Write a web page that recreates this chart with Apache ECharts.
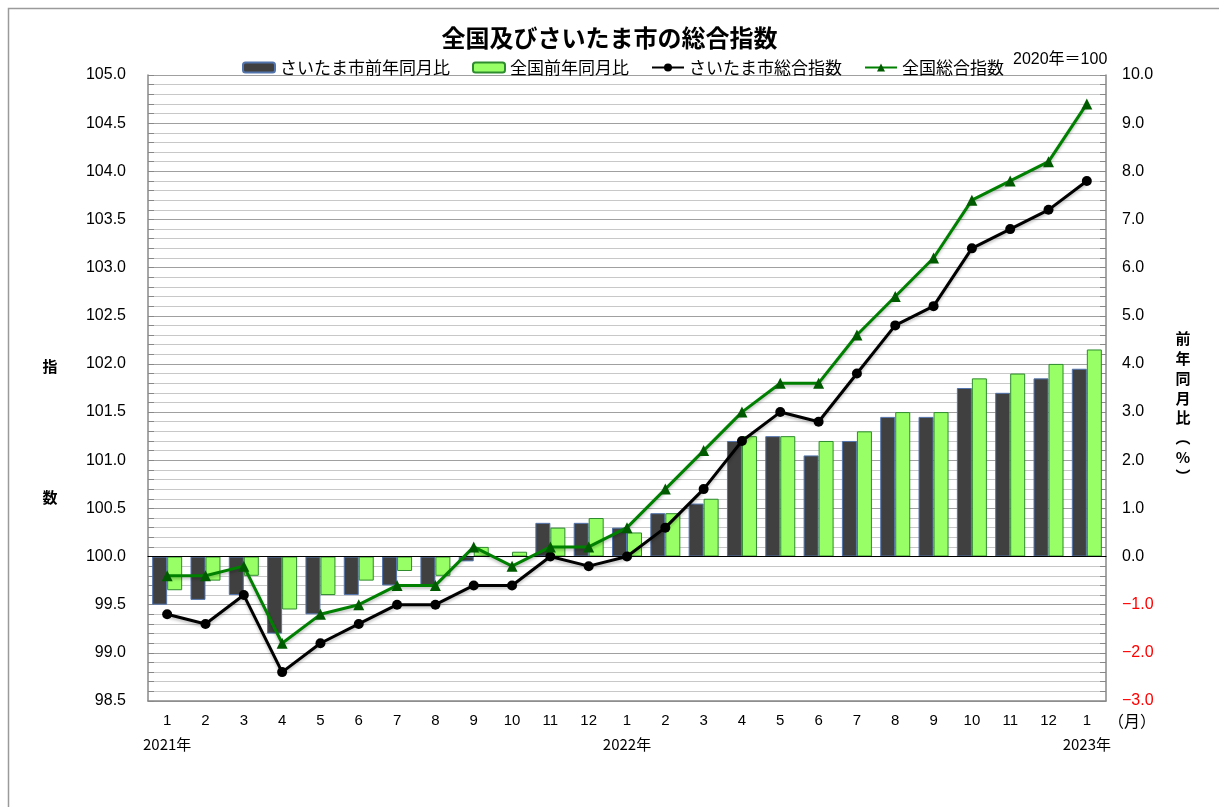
<!DOCTYPE html>
<html>
<head>
<meta charset="utf-8">
<script src="https://cdn.jsdelivr.net/npm/echarts@6/dist/echarts.min.js"></script>
<style>
html,body{margin:0;padding:0;background:#fff;}
#c{width:1219px;height:807px;}
</style>
</head>
<body>
<div id="c"></div>
<script>
var months = ['1','2','3','4','5','6','7','8','9','10','11','12','1','2','3','4','5','6','7','8','9','10','11','12','1'];
var yearLabels = ['2021年','','','','','','','','','','','','2022年','','','','','','','','','','','','2023年'];
var saitamaYoY = [-1.0,-0.9,-0.8,-1.6,-1.2,-0.8,-0.6,-0.6,-0.1,0.0,0.7,0.7,0.6,0.9,1.1,2.4,2.5,2.1,2.4,2.9,2.9,3.5,3.4,3.7,3.9];
var nationalYoY = [-0.7,-0.5,-0.4,-1.1,-0.8,-0.5,-0.3,-0.4,0.2,0.1,0.6,0.8,0.5,0.9,1.2,2.5,2.5,2.4,2.6,3.0,3.0,3.7,3.8,4.0,4.3];
var saitamaIndex = [99.4,99.3,99.6,98.8,99.1,99.3,99.5,99.5,99.7,99.7,100.0,99.9,100.0,100.3,100.7,101.2,101.5,101.4,101.9,102.4,102.6,103.2,103.4,103.6,103.9];
var nationalIndex = [99.8,99.8,99.9,99.1,99.4,99.5,99.7,99.7,100.1,99.9,100.1,100.1,100.3,100.7,101.1,101.5,101.8,101.8,102.3,102.7,103.1,103.7,103.9,104.1,104.7];
var seriesNames = ['さいたま市前年同月比','全国前年同月比','さいたま市総合指数','全国総合指数'];

var cjk = '"Noto Sans CJK JP","Liberation Sans",sans-serif';
var num = '"Liberation Sans","Noto Sans CJK JP",sans-serif';

var chart = echarts.init(document.getElementById('c'), null, {renderer:'canvas'});
chart.setOption({
  backgroundColor:'#ffffff',
  animation:false,
  graphic:[{type:'rect', shape:{x:8.5, y:8.5, width:1400, height:1000}, style:{fill:'none', stroke:'#9a9a9a', lineWidth:1.5}, z:-10}],
  title:[
    {text:'全国及びさいたま市の総合指数', left:'center', top:21, textStyle:{fontFamily:cjk, fontSize:24, fontWeight:'bold', color:'#000'}},
    {text:'2020年＝100', left:1008, top:47, textStyle:{fontFamily:num, fontSize:16, fontWeight:'normal', color:'#000'}}
  ],
  legend:{
    data:seriesNames, left:237, top:54, itemGap:22, itemWidth:32, itemHeight:10,
    textStyle:{fontFamily:cjk, fontSize:17, color:'#000'}
  },
  grid:{left:148, right:113, top:75, bottom:106, containLabel:false},
  xAxis:[
    {type:'category', data:months, boundaryGap:true, position:'bottom',
     name:'（月）', nameLocation:'end', nameGap:2,
     nameTextStyle:{fontFamily:cjk, fontSize:16, color:'#000', align:'left', verticalAlign:'top', padding:[12,0,0,0]},
     axisLine:{onZero:false, lineStyle:{color:'#888', width:1.5}},
     axisTick:{inside:true, length:5, lineStyle:{color:'#888'}},
     axisLabel:{interval:0, margin:12, fontFamily:num, fontSize:15, color:'#000'}},
    {type:'category', data:yearLabels, boundaryGap:true, position:'bottom', offset:24,
     axisLine:{show:false}, axisTick:{show:false},
     axisLabel:{interval:0, margin:12, fontFamily:cjk, fontSize:15, color:'#000'}},
    {type:'category', data:months, boundaryGap:true, position:'bottom',
     axisLine:{show:true, onZero:true, onZeroAxisIndex:1, lineStyle:{color:'#000', width:1}},
     axisTick:{show:false}, axisLabel:{show:false}, splitLine:{show:false}, z:3}
  ],
  yAxis:[
    {type:'value', min:98.5, max:105, interval:0.5, position:'left',
     name:'\n\n指\n\n\n数', nameLocation:'middle', nameRotate:0, nameGap:98,
     nameTextStyle:{fontFamily:cjk, fontSize:15, fontWeight:'bold', color:'#000', lineHeight:43.67, align:'center'},
     axisLine:{show:true, lineStyle:{color:'#888', width:1.5}},
     axisTick:{show:true, inside:true, length:6, lineStyle:{color:'#888'}},
     minorTick:{show:true, splitNumber:5, length:6, lineStyle:{color:'#888'}},
     splitLine:{show:true, lineStyle:{color:'#a0a0a0', width:1.2}},
     minorSplitLine:{show:true, lineStyle:{color:'#c8c8c8', width:1.2}},
     axisLabel:{margin:22, fontFamily:num, fontSize:16, color:'#000', formatter:function(v){return v.toFixed(1);}}},
    {type:'value', min:-3, max:10, interval:1, position:'right',
     name:'\n\n前\n年\n同\n月\n比\n︵\n%\n︶', nameLocation:'middle', nameRotate:0, nameGap:77,
     nameTextStyle:{fontFamily:cjk, fontSize:15, fontWeight:'bold', color:'#000', lineHeight:19.7, align:'center'},
     axisLine:{show:true, lineStyle:{color:'#888', width:1.5}},
     axisTick:{show:true, inside:true, length:6, lineStyle:{color:'#888'}},
     minorTick:{show:true, splitNumber:5, length:6, lineStyle:{color:'#888'}},
     splitLine:{show:false},
     axisLabel:{margin:16, fontFamily:num, fontSize:16,
       color:function(v){return parseFloat(v) < 0 ? '#ff0000' : '#000';},
       formatter:function(v){return (v < 0 ? '−' + Math.abs(v).toFixed(1) : v.toFixed(1));}}}
  ],
  series:[
    {name:seriesNames[0], type:'bar', yAxisIndex:1, data:saitamaYoY, barWidth:15, barGap:'0%',
     itemStyle:{color:'#404040', borderColor:'#5274ad', borderWidth:1}, z:2},
    {name:seriesNames[1], type:'bar', yAxisIndex:1, data:nationalYoY, barWidth:15, barGap:'0%',
     itemStyle:{color:'#99ff66', borderColor:'#2e8b2e', borderWidth:1}, z:2},
    {name:seriesNames[2], type:'line', yAxisIndex:0, data:saitamaIndex, symbol:'circle', symbolSize:10,
     lineStyle:{color:'#000', width:3, shadowColor:'rgba(0,0,0,0.25)', shadowBlur:3, shadowOffsetY:2},
     itemStyle:{color:'#000'}, z:5},
    {name:seriesNames[3], type:'line', yAxisIndex:0, data:nationalIndex, symbol:'triangle', symbolSize:11,
     lineStyle:{color:'#008000', width:3, shadowColor:'rgba(0,0,0,0.25)', shadowBlur:3, shadowOffsetY:2},
     itemStyle:{color:'#005a00'}, z:6}
  ]
});
</script>
</body>
</html>
